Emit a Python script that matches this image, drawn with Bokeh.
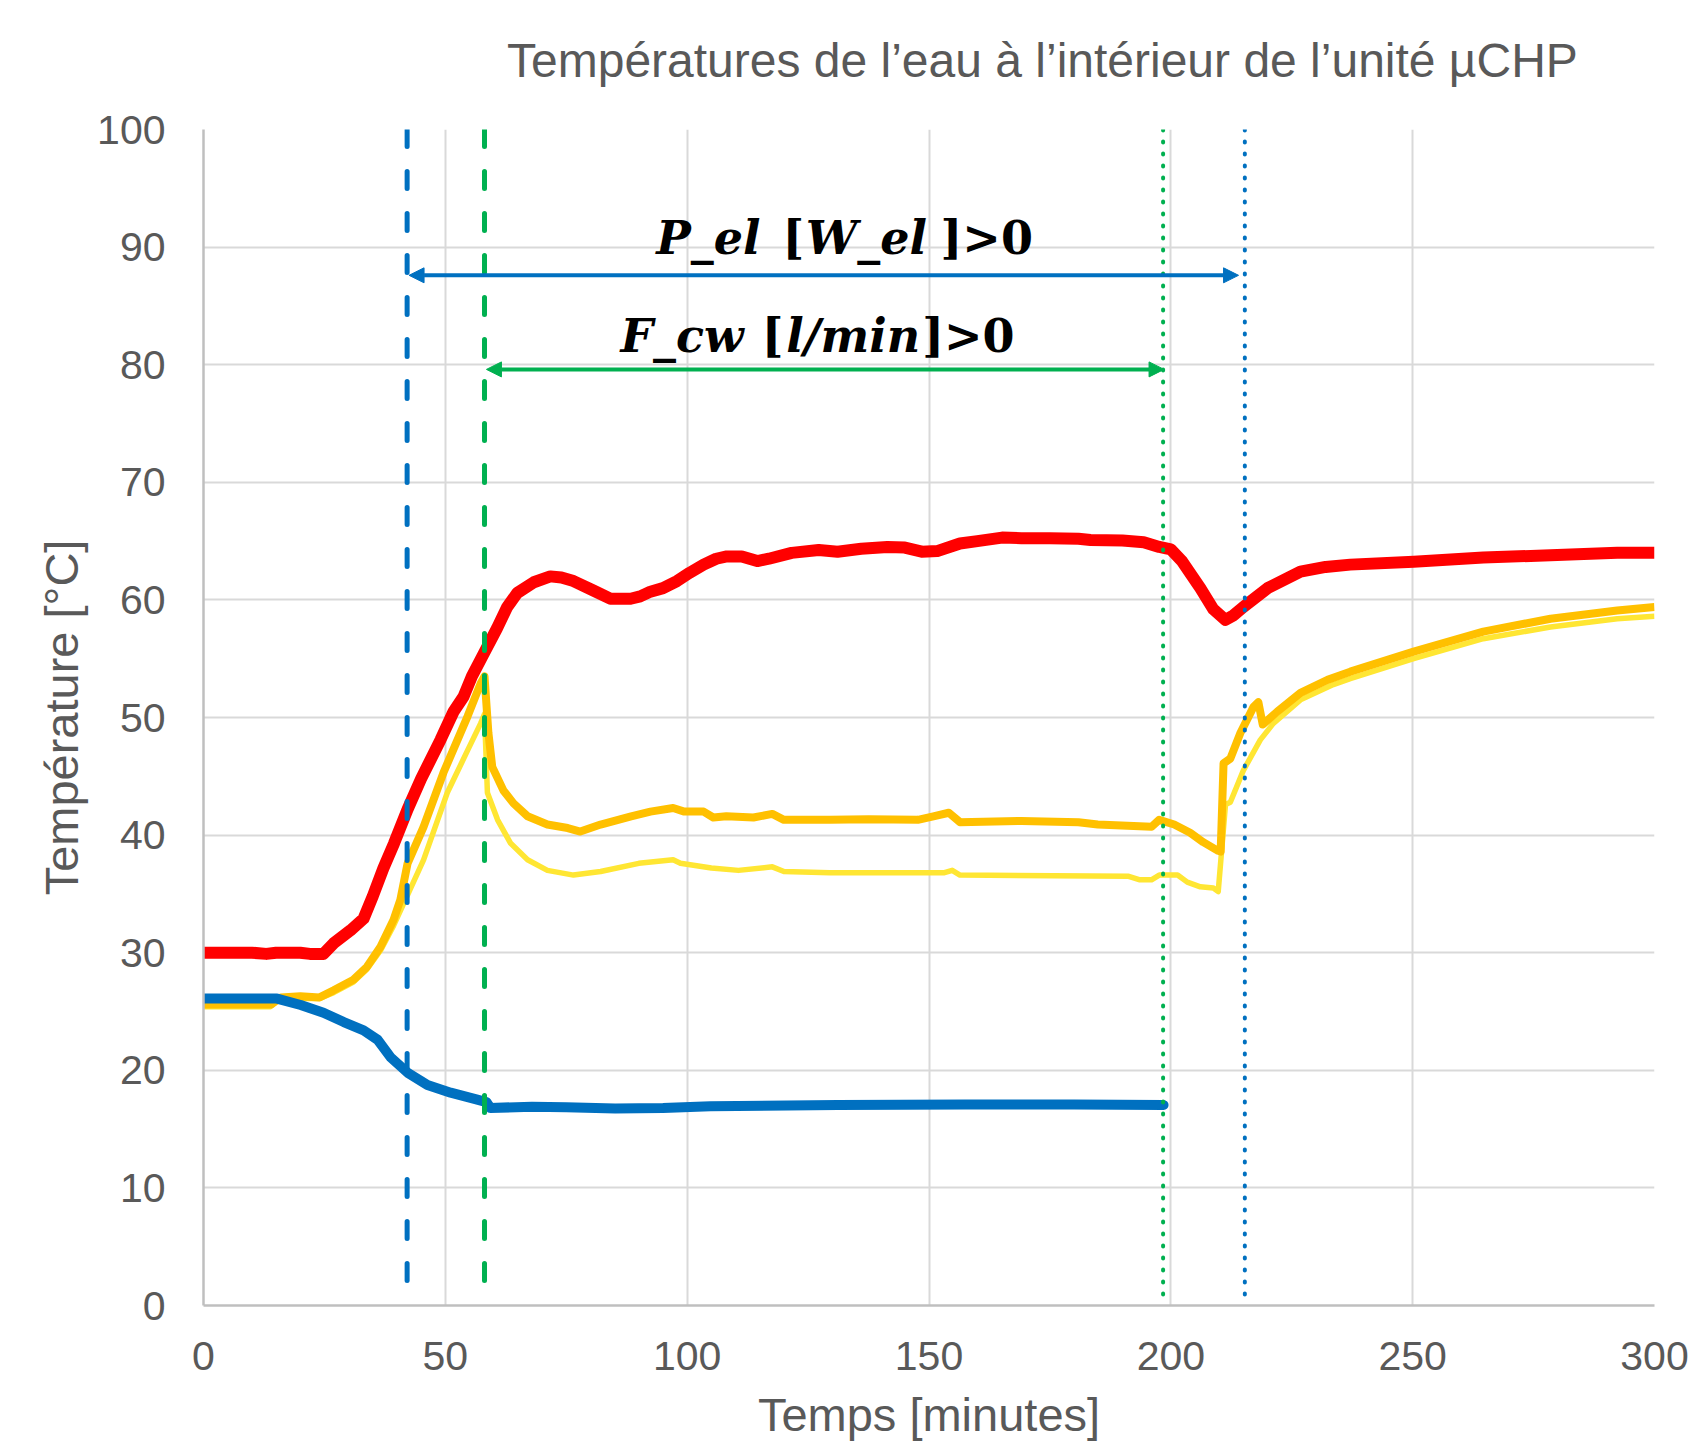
from bokeh.plotting import figure
from bokeh.models import Range1d, Arrow, NormalHead, ColumnDataSource, Div
from bokeh.layouts import column
from bokeh.embed import file_html
from bokeh.resources import INLINE
from bokeh.core.properties import value

# ---------------- data ----------------
title_text = "Températures de l’eau à l’intérieur de l’unité µCHP"
x_label = "Temps [minutes]"
y_label = "Température [°C]"
x_ticks = [0, 50, 100, 150, 200, 250, 300]
y_ticks = [0, 10, 20, 30, 40, 50, 60, 70, 80, 90, 100]

t_red = [0, 10, 13, 15, 20, 22, 24.8, 26.9, 30.4, 33.1, 35, 37.2, 39.4, 42.2, 45, 49, 51.7,
         53.8, 55.5, 57.9, 60.7, 62.8, 64.9, 68.3, 71.7, 74, 76.5, 80.6, 84.1, 88.3, 90.3,
         92.4, 95, 97.9, 100.5, 103.4, 106, 108.2, 111.3, 114.5, 116.9, 121.6, 127.2, 131.1,
         136, 141.4, 145, 148.5, 151.7, 156.4, 160, 165.1, 169.1, 175, 180.9, 183.4, 190,
         194.4, 197.6, 200, 202.3, 206.1, 208.8, 211.3, 213, 215, 220, 226.8, 232, 237.1,
         250.2, 264.6, 278.5, 292.3, 300]
v_red = [30.0, 30.0, 29.9, 30.0, 30.0, 29.9, 29.9, 30.8, 31.9, 32.9, 34.8, 37.2, 39.3, 42.2,
         44.8, 48.1, 50.5, 51.8, 53.5, 55.4, 57.6, 59.4, 60.6, 61.5, 62.0, 61.9, 61.6, 60.8,
         60.1, 60.1, 60.3, 60.7, 61.0, 61.6, 62.3, 63.0, 63.5, 63.7, 63.7, 63.3, 63.5, 64.0,
         64.25, 64.1, 64.35, 64.5, 64.45, 64.1, 64.15, 64.8, 65.0, 65.3, 65.25, 65.25, 65.2,
         65.1, 65.05, 64.9, 64.5, 64.3, 63.3, 61.0, 59.2, 58.3, 58.7, 59.4, 61.0, 62.4, 62.8,
         63.0, 63.25, 63.6, 63.8, 64.0, 64.0]

t_orange = [0, 14, 16, 20, 24, 26.9, 31, 33.8, 36.6, 39.3, 40.7, 42.2, 45.5, 49.6, 54.6, 57.3,
            58.1, 58.9, 59.7, 62, 64.1, 67, 71.1, 75.3, 77.9, 82.1, 88.4, 92.4, 97.1, 99.4,
            103.4, 105.4, 108.1, 113.7, 117.6, 120, 129.5, 137.5, 147.7, 150.9, 154.1, 156.4,
            169.1, 180.9, 184.9, 196, 197.6, 200.7, 204, 206.7, 209.6, 210.3, 210.9, 212.3,
            214.4, 217.1, 218.1, 219, 222, 226.8, 232.4, 237.1, 250.2, 264.6, 278.5, 292.3, 300]
v_orange = [25.6, 25.6, 26.2, 26.3, 26.2, 26.8, 27.7, 28.8, 30.5, 32.8, 34.5, 37.6, 40.7, 45.3,
            50.1, 52.9, 53.5, 48.7, 45.8, 43.8, 42.7, 41.6, 40.9, 40.6, 40.3, 40.9, 41.6, 42.0,
            42.3, 42.0, 42.0, 41.5, 41.6, 41.5, 41.8, 41.3, 41.3, 41.35, 41.3, 41.6, 41.9, 41.1,
            41.2, 41.1, 40.9, 40.7, 41.3, 40.9, 40.2, 39.4, 38.7, 38.6, 46.1, 46.5, 48.7, 50.9,
            51.3, 49.4, 50.5, 52.1, 53.2, 53.9, 55.6, 57.3, 58.4, 59.1, 59.4]

t_yellow = [0, 13.8, 15.3, 20, 24, 26.9, 31, 33.8, 36.6, 39.3, 41.4, 45.5, 50.4, 54.6, 57.3,
            58.1, 58.7, 60.8, 63.5, 67, 71.1, 76.5, 82.1, 90, 97.1, 98.6, 105, 110.6, 117.6,
            120, 129.5, 153.2, 154.8, 156.4, 191.3, 193.6, 196, 197.6, 201.4, 203.4, 206.1,
            208.8, 209.8, 211.3, 212.3, 215, 218.5, 221.2, 226.8, 233.6, 237.1, 250.2, 264.6,
            278.5, 292.3, 300]
v_yellow = [25.4, 25.4, 26.0, 26.1, 26.1, 26.6, 27.5, 28.6, 30.2, 32.3, 34.2, 37.9, 43.6, 47.2,
            49.5, 50.3, 43.6, 41.3, 39.3, 37.9, 37.0, 36.6, 36.9, 37.6, 37.9, 37.6, 37.2, 37.0,
            37.3, 36.9, 36.8, 36.8, 37.0, 36.6, 36.5, 36.2, 36.2, 36.6, 36.6, 36.0, 35.6, 35.5,
            35.2, 42.6, 42.8, 45.5, 48.1, 49.5, 51.5, 52.8, 53.3, 55.0, 56.7, 57.7, 58.4, 58.6]

t_blue = [0, 15.2, 20.1, 24.8, 29, 33.1, 36, 38.7, 42.2, 46.3, 51.1, 56.6, 58.5, 59.3, 67.9,
          75, 85.1, 95, 104.8, 131.2, 157.5, 180, 198.5]
v_blue = [26.1, 26.1, 25.55, 24.9, 24.1, 23.4, 22.6, 21.1, 19.8, 18.75, 18.1, 17.5, 17.3, 16.8,
          16.9, 16.85, 16.75, 16.8, 16.95, 17.05, 17.1, 17.1, 17.05]

# event markers (minutes)
mark_pel_start = 42.1
mark_fcw_start = 58.1
mark_fcw_end = 198.4
mark_pel_end = 215.3

# arrows
arrow_x0 = [42.5, 58.5]
arrow_x1 = [214.0, 198.6]
arrow_y = [87.6, 79.6]

# annotation texts, split into italic (variables) and upright (brackets / comparison) pieces
ann_italic_text = ["P_el", "W_el", "F_cw", "l/min"]
ann_italic_x = [93.6, 124.5, 86.2, 120.5]
ann_italic_y = [90.8, 90.8, 82.4, 82.4]
ann_upright_text = ["[", "]>0", "[", "]>0"]
ann_upright_x = [119.7, 152.4, 115.4, 148.6]
ann_upright_y = [90.8, 90.8, 82.4, 82.4]

# ---------------- figure ----------------
GRAY = "#595959"
FONT = "Liberation Sans"
TITLE_H = 100

title_div = Div(text=title_text, width=1691, height=TITLE_H,
                styles={"font-family": FONT, "font-size": "48px", "color": GRAY,
                        "line-height": "48px", "padding-left": "507px", "padding-top": "37px",
                        "white-space": "nowrap", "box-sizing": "border-box",
                        "background-color": "white", "margin": "0px", "overflow": "visible"})

p = figure(width=1691, height=1445 - TITLE_H, output_backend="svg", toolbar_location=None,
           x_range=Range1d(0, 300), y_range=Range1d(0, 100),
           min_border_left=203, min_border_right=37, min_border_top=129 - TITLE_H,
           min_border_bottom=140)
p.outline_line_color = None
p.background_fill_color = "white"
p.border_fill_color = "white"

p.xaxis.ticker = x_ticks
p.yaxis.ticker = y_ticks
p.xaxis.axis_label = x_label
p.yaxis.axis_label = y_label
for ax in (p.xaxis, p.yaxis):
    ax.major_label_text_font = FONT
    ax.major_label_text_font_size = "41px"
    ax.major_label_text_color = GRAY
    ax.axis_label_text_font = FONT
    ax.axis_label_text_font_size = "47px"
    ax.axis_label_text_font_style = "normal"
    ax.axis_label_text_color = GRAY
    ax.major_tick_line_color = None
    ax.minor_tick_line_color = None
    ax.axis_line_color = "#BFBFBF"
    ax.axis_line_width = 2.5
p.xaxis.major_label_standoff = 30
p.xaxis.axis_label_standoff = 15
p.yaxis.major_label_standoff = 32
p.yaxis.axis_label_standoff = 6

p.grid.grid_line_color = "#D9D9D9"
p.grid.grid_line_width = 2

# series
p.line(t_yellow, v_yellow, line_color="#FFE633", line_width=5.5, line_join="round")
p.line(t_orange, v_orange, line_color="#FFC000", line_width=8, line_join="round")
p.line(t_blue, v_blue, line_color="#0070C0", line_width=10, line_join="round", line_cap="round")
p.line(t_red, v_red, line_color="#FF0000", line_width=12, line_join="round")

# vertical markers (drawn from the top down so the pattern starts at the top)
p.segment(x0=[mark_pel_start], y0=[100], x1=[mark_pel_start], y1=[0],
          line_color="#0070C0", line_width=5, line_dash="17 25", line_cap="round")
p.segment(x0=[mark_fcw_start], y0=[100], x1=[mark_fcw_start], y1=[0],
          line_color="#00B050", line_width=5, line_dash="17 25", line_cap="round")
p.segment(x0=[mark_fcw_end], y0=[100], x1=[mark_fcw_end], y1=[0],
          line_color="#00B050", line_width=4, line_dash="1 11", line_cap="round")
p.segment(x0=[mark_pel_end], y0=[100], x1=[mark_pel_end], y1=[0],
          line_color="#0070C0", line_width=4, line_dash="1 11", line_cap="round")

# arrows
for x0, x1, y, c in zip(arrow_x0, arrow_x1, arrow_y, ["#0070C0", "#00B050"]):
    p.add_layout(Arrow(x_start=x0, y_start=y, x_end=x1, y_end=y,
                       line_color=c, line_width=4,
                       start=NormalHead(size=15, fill_color=c, line_color=c, line_width=1),
                       end=NormalHead(size=15, fill_color=c, line_color=c, line_width=1)))

# annotation texts
src_i = ColumnDataSource(dict(x=ann_italic_x, y=ann_italic_y, text=ann_italic_text))
src_u = ColumnDataSource(dict(x=ann_upright_x, y=ann_upright_y, text=ann_upright_text))
p.text(x="x", y="y", text="text", source=src_i, text_font=value("DejaVu Serif"),
       text_font_style="bold italic", text_font_size="46px", text_color="black",
       text_align="left", text_baseline="alphabetic")
p.text(x="x", y="y", text="text", source=src_u, text_font=value("DejaVu Serif"),
       text_font_style="bold", text_font_size="46px", text_color="black",
       text_align="left", text_baseline="alphabetic")

layout = column(title_div, p, spacing=0)
open("out.html", "w").write(file_html(layout, INLINE))
